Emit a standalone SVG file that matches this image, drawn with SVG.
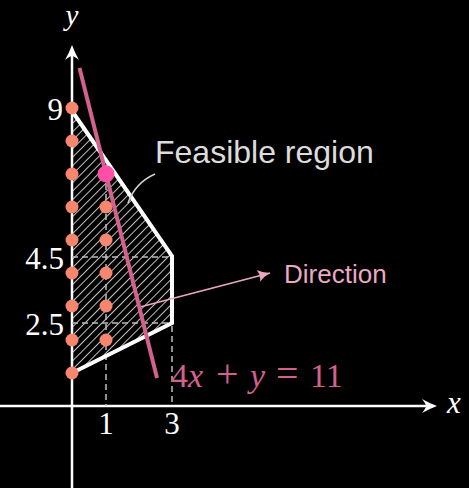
<svg xmlns="http://www.w3.org/2000/svg" width="469" height="488" viewBox="0 0 469 488">
<defs>
<style>
.ax{stroke:#fff;stroke-width:2.5;fill:none}
.dash{stroke:#bdbdbd;stroke-width:1.5;stroke-dasharray:6 4;fill:none}
.math{font-family:"Liberation Serif","DejaVu Serif",serif;fill:#fff;font-size:31px}
.it{font-style:italic}
.op{font-size:40px}
.sans{font-family:"Liberation Sans",Arial,sans-serif}
.dot{fill:#f7866e}
</style>
<pattern id="hatch" width="6" height="6" patternUnits="userSpaceOnUse" patternTransform="rotate(45)">
<line x1="0" y1="0" x2="0" y2="6" stroke="#f0f0f0" stroke-width="1.6"/>
</pattern>
<marker id="ah" markerWidth="14" markerHeight="12" refX="12" refY="6" orient="auto" markerUnits="userSpaceOnUse">
<path d="M0,0 Q6,4.5 12,6 Q6,7.5 0,12 Q3,6 0,0 Z" fill="#e9a6c1"/>
</marker>
</defs>
<rect width="469" height="488" fill="#000"/>

<g id="axes">
<line class="ax" x1="0" y1="406" x2="430" y2="406"/>
<path d="M437,406 Q429,403 422,399 Q426,404 426,406 Q426,408 422,413 Q429,409 437,406 Z" fill="#fff"/>
<line class="ax" x1="72" y1="488" x2="72" y2="52"/>
<path d="M72,45 Q69,53 65,60 Q70,56 72,56 Q74,56 79,60 Q75,53 72,45 Z" fill="#fff"/>
<text class="math it" x="72" y="25" text-anchor="middle" style="font-size:29px">y</text>
<text class="math it" x="447" y="413">x</text>
<text class="math" x="63" y="120" text-anchor="end">9</text>
<text class="math" x="64" y="269" text-anchor="end">4.5</text>
<text class="math" x="64" y="335" text-anchor="end">2.5</text>
<text class="math" x="106" y="434" text-anchor="middle">1</text>
<text class="math" x="172" y="434" text-anchor="middle">3</text>
</g>

<g id="feasible-region">
<polygon points="72,111 172,256 172,323 72,373" fill="url(#hatch)"/>
<line class="dash" x1="72" y1="257" x2="172" y2="257"/>
<line class="dash" x1="72" y1="323" x2="172" y2="323"/>
<line class="dash" x1="106" y1="174" x2="106" y2="406"/>
<line class="dash" x1="172" y1="256" x2="172" y2="406"/>
<polyline points="72,111 172,256 172,323 72,373" fill="none" stroke="#fff" stroke-width="4" stroke-linejoin="miter"/>
</g>

<g id="connectors">
<path d="M155,174 Q135,183 128,203" fill="none" stroke="#cfcfcf" stroke-width="1.5"/>
<line x1="140" y1="307" x2="270" y2="273" stroke="#e9a6c1" stroke-width="1.8" marker-end="url(#ah)"/>
</g>

<g id="points">
<circle class="dot" cx="72" cy="108" r="6.5"/>
<circle class="dot" cx="72" cy="141" r="6.5"/>
<circle class="dot" cx="72" cy="174" r="6.5"/>
<circle class="dot" cx="72" cy="207" r="6.5"/>
<circle class="dot" cx="72" cy="240" r="6.5"/>
<circle class="dot" cx="72" cy="273" r="6.5"/>
<circle class="dot" cx="72" cy="306" r="6.5"/>
<circle class="dot" cx="72" cy="340" r="6.5"/>
<circle class="dot" cx="72" cy="373" r="6.5"/>
<circle class="dot" cx="106" cy="207" r="6.5"/>
<circle class="dot" cx="106" cy="240" r="6.5"/>
<circle class="dot" cx="106" cy="273" r="6.5"/>
<circle class="dot" cx="106" cy="306" r="6.5"/>
<circle class="dot" cx="106" cy="340" r="6.5"/>
</g>

<g id="objective-line">
<line x1="79.5" y1="68" x2="157" y2="378" stroke="#d3608d" stroke-width="4"/>
<circle cx="106" cy="174" r="8.5" fill="#ff4fa6"/>
<text class="math" x="171" y="387" style="fill:#d3608d;font-size:34px"><tspan>4</tspan><tspan class="it" x="188">x</tspan><tspan class="op" x="216">+</tspan><tspan class="it" x="250">y</tspan><tspan class="op" x="276">=</tspan><tspan x="310">11</tspan></text>
</g>

<g id="label-feasible">
<text class="sans" x="155" y="163" style="fill:#dcdcdc;font-size:32px">Feasible region</text>
</g>
<g id="label-direction">
<text class="sans" x="284" y="283" style="fill:#eaa8c3;font-size:26px">Direction</text>
</g>
</svg>
